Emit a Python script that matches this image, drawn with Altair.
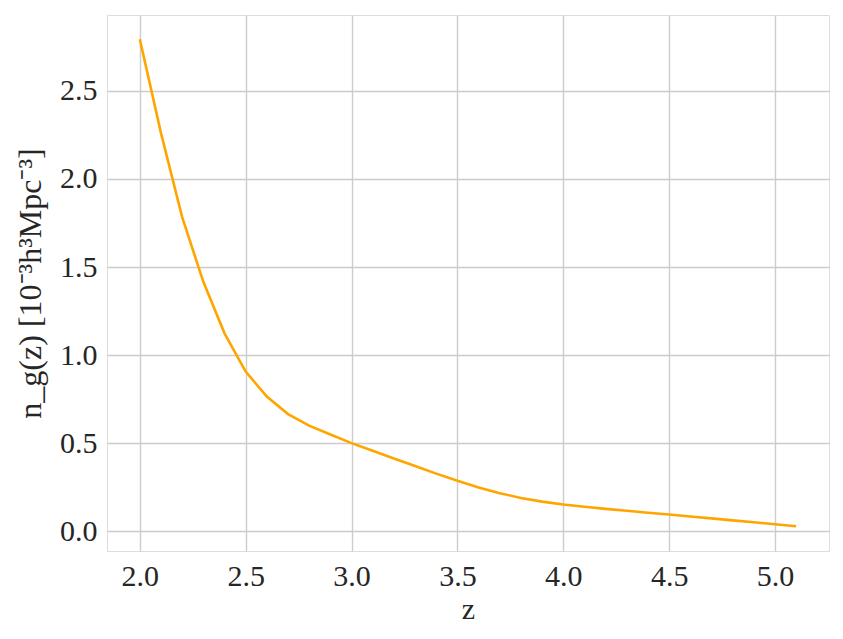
import altair as alt
import pandas as pd

z = [2.0, 2.1, 2.2, 2.3, 2.4, 2.5, 2.6, 2.7, 2.8, 2.9,
     3.0, 3.1, 3.2, 3.3, 3.4, 3.5, 3.6, 3.7, 3.8, 3.9,
     4.0, 4.1, 4.2, 4.3, 4.4, 4.5, 4.6, 4.7, 4.8, 4.9,
     5.0, 5.1]
ng = [2.792, 2.26, 1.783, 1.416, 1.124, 0.907, 0.765, 0.666, 0.600, 0.550,
      0.501, 0.458, 0.414, 0.371, 0.328, 0.287, 0.249, 0.217, 0.190, 0.169,
      0.153, 0.140, 0.128, 0.117, 0.106, 0.096, 0.085, 0.074, 0.063, 0.052,
      0.041, 0.029]
x_ticks = [2.0, 2.5, 3.0, 3.5, 4.0, 4.5, 5.0]
y_ticks = [0.0, 0.5, 1.0, 1.5, 2.0, 2.5]

df = pd.DataFrame({"z": z, "ng": ng})

FONT = "Liberation Serif"

chart = alt.Chart(df).mark_line(color="#FFA500", strokeWidth=2.6).encode(
    x=alt.X("z:Q", scale=alt.Scale(domain=[1.845, 5.255], nice=False, zero=False),
            axis=alt.Axis(values=x_ticks, format=".1f", title="z", titleFont=FONT,
                          titleFontSize=30, titleFontWeight="normal", titleColor="#262626",
                          titlePadding=3, labelFont=FONT, labelFontSize=30,
                          labelColor="#262626", labelPadding=10, ticks=False,
                          domain=False, gridColor="#cccccc", gridWidth=1.4)),
    y=alt.Y("ng:Q", scale=alt.Scale(domain=[-0.111, 2.93], nice=False, zero=False),
            axis=alt.Axis(values=y_ticks, format=".1f",
                          title="n_g(z) [10⁻³h³Mpc⁻³]", titleFont=FONT,
                          titleFontSize=32, titleFontWeight="normal", titleColor="#262626",
                          titlePadding=12, labelFont=FONT, labelFontSize=30,
                          labelColor="#262626", labelPadding=10, ticks=False,
                          domain=False, gridColor="#cccccc", gridWidth=1.4)),
).properties(
    width=722,
    height=536,
    autosize=alt.AutoSizeParams(type="none"),
    padding={"left": 99, "top": 7, "right": 6, "bottom": 80},
).configure_view(
    stroke="#cccccc", strokeWidth=1.6
).configure(background="white")

chart.save("out.html", embed_options={"renderer": "svg", "actions": False})
